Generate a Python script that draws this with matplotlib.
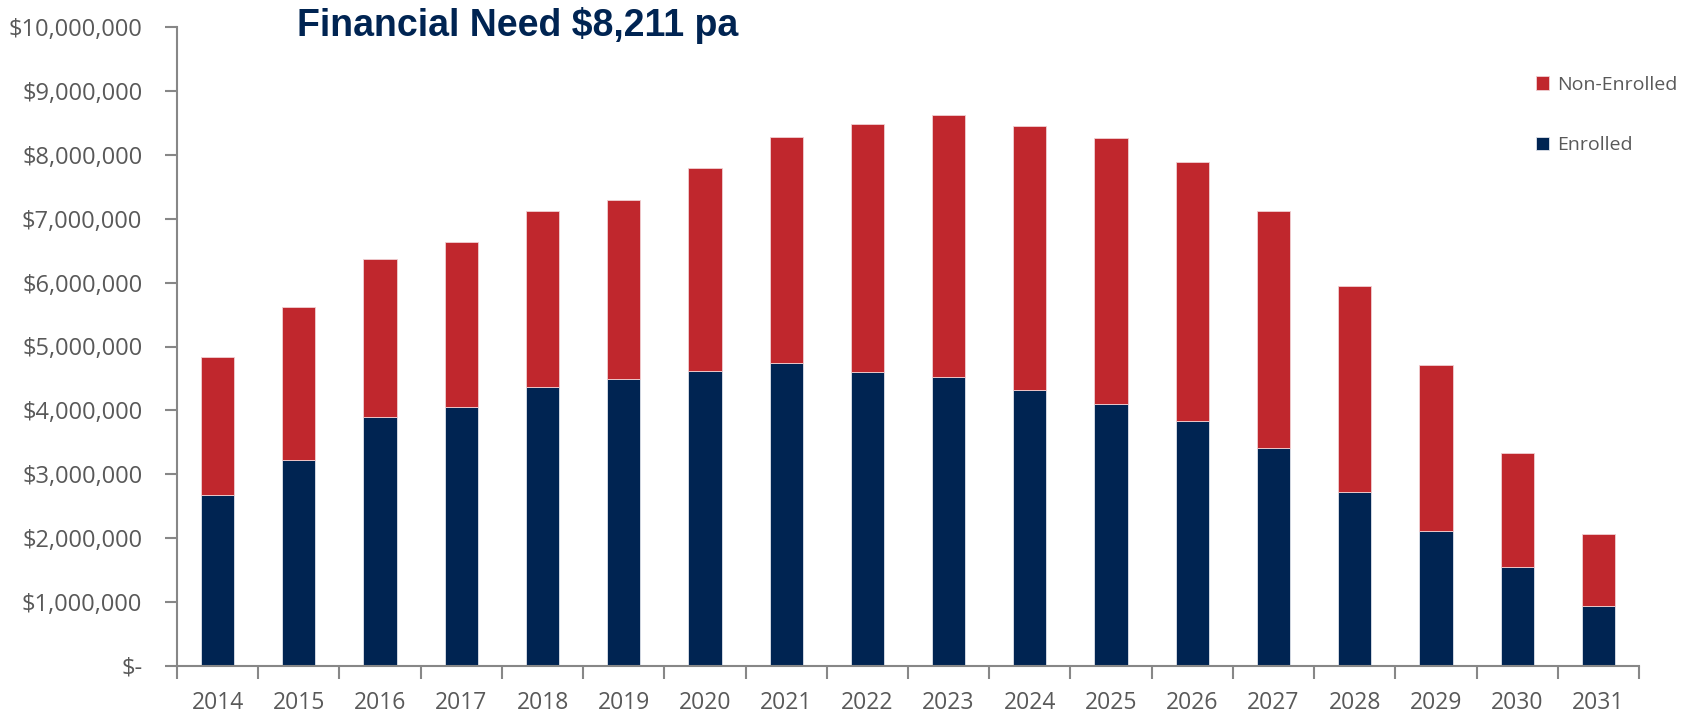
import matplotlib
matplotlib.use("Agg")
import matplotlib.pyplot as plt
from matplotlib.ticker import FuncFormatter, FixedLocator
import numpy as np

years = ["2014", "2015", "2016", "2017", "2018", "2019", "2020", "2021", "2022",
         "2023", "2024", "2025", "2026", "2027", "2028", "2029", "2030", "2031"]
enrolled = [2.68, 3.22, 3.90, 4.06, 4.37, 4.49, 4.62, 4.74, 4.60,
            4.52, 4.32, 4.10, 3.83, 3.41, 2.73, 2.12, 1.55, 0.94]
total = [4.84, 5.62, 6.37, 6.64, 7.12, 7.30, 7.79, 8.28, 8.48,
         8.62, 8.45, 8.26, 7.88, 7.12, 5.94, 4.71, 3.34, 2.06]
enrolled = [v * 1e6 for v in enrolled]
non_enrolled = [t * 1e6 - e for t, e in zip(total, enrolled)]

title = "Financial Need $8,211 pa"
navy = "#002452"
red = "#C0272D"
grey_txt = "#595959"
grey_axis = "#878787"

plt.rcParams['font.family'] = ['Open Sans', 'DejaVu Sans']

fig = plt.figure(figsize=(16.89, 7.12), dpi=100)
ax = fig.add_axes([177/1689, 1 - 666/712, (1639-177)/1689, (666-27)/712])

x = np.arange(len(years))
w = 0.41
b1 = ax.bar(x, enrolled, width=w, color=navy, edgecolor="#dfe3ea", linewidth=0.6, label="Enrolled")
b2 = ax.bar(x, non_enrolled, width=w, bottom=enrolled, color=red, edgecolor="#f0d0d2",
            linewidth=0.6, label="Non-Enrolled")

ax.set_xlim(-0.5, len(years) - 0.5)
ax.set_ylim(0, 10e6)
ax.set_yticks(np.arange(0, 10e6 + 1, 1e6))

def fmt(v, pos):
    if v == 0:
        return "$-"
    return "${:,.0f}".format(v)
ax.yaxis.set_major_formatter(FuncFormatter(fmt))

ax.set_xticks(x)
ax.set_xticklabels(years)
ax.xaxis.set_minor_locator(FixedLocator(np.arange(-0.5, len(years), 1.0)))
ax.tick_params(axis='x', which='major', length=0, pad=18, labelsize=16.5, labelcolor=grey_txt)
ax.tick_params(axis='x', which='minor', length=9, width=1.5, color=grey_axis, direction='out')
ax.tick_params(axis='y', length=9, width=1.5, color=grey_axis, direction='out', pad=16,
               labelsize=17, labelcolor=grey_txt)

for s in ['top', 'right']:
    ax.spines[s].set_visible(False)
for s in ['left', 'bottom']:
    ax.spines[s].set_color(grey_axis)
    ax.spines[s].set_linewidth(1.5)

fig.text(297/1689, 1 - 26/712, title, ha='left', va='center', fontsize=27,
         fontweight='bold', color=navy, family=['Liberation Sans', 'DejaVu Sans'])

leg = fig.legend([b2, b1], ["Non-Enrolled", "Enrolled"], loc='upper left',
                 bbox_to_anchor=(1518/1689, 1 - 58/712), frameon=False,
                 fontsize=14, labelspacing=2.2, handlelength=0.7, handleheight=0.7,
                 handletextpad=0.4, labelcolor=grey_txt)

fig.savefig("out.png", dpi=100)
